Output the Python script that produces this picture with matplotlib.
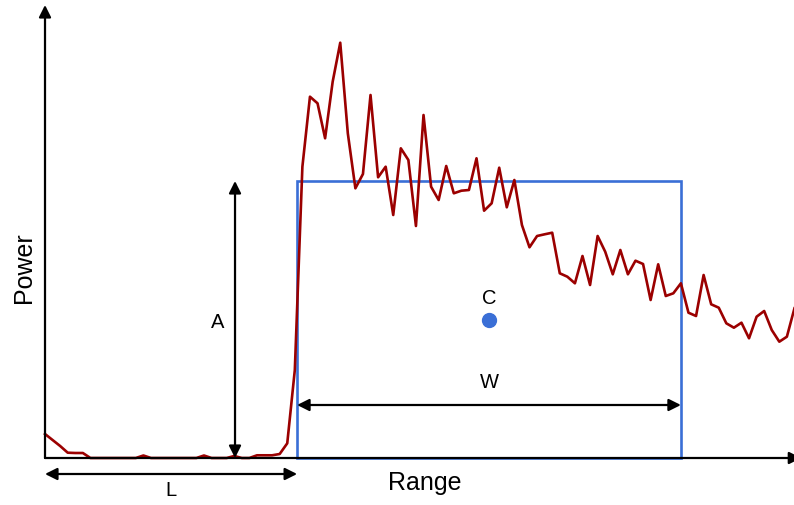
import matplotlib.pyplot as plt
import numpy as np
from matplotlib.patches import Rectangle

plt.rcParams["font.family"] = ["Liberation Sans", "DejaVu Sans"]

# sampled return power along range (arbitrary units)
power = np.array([
    24, 18, 12, 5.3, 5, 5, 0, 0, 0, 0,
    0, 0, 0, 2.5, 0, 0, 0, 0, 0, 0,
    0, 2.5, 0, 0, 0, 2, 0, 0, 2.7, 2.7,
    2.7, 4, 14.7, 88, 291.3, 361.3, 354.7, 319.7, 376.3, 415.3,
    324.7, 269.7, 284, 363, 280.7, 291.3, 243, 309.7, 298, 232,
    343, 271.3, 258, 292, 264.7, 267.3, 268, 299.7, 247.3, 254.7,
    290.3, 250.7, 278, 233, 210.7, 222, 223.7, 225.3, 184.7, 181.3,
    174.7, 202, 173, 222, 206.3, 183.7, 208, 183.7, 197.3, 194,
    158, 193.7, 162, 164.7, 174.7, 145.3, 142, 183, 153.7, 150.3,
    134.7, 130.3, 135.3, 119.7, 141.3, 147, 128, 116.3, 121.3, 149.7,
])
rng = np.arange(len(power))

# rectangular pulse fit: leading edge L, width W, amplitude A
L = 33.3
W = 50.7
A = 277
C = (L + W / 2, A / 2)

red = "#9b0000"
blue = "#3a6fd6"

fig = plt.figure(figsize=(7.94, 5.05), dpi=100)
ax = fig.add_axes([0, 0, 1, 1])
ax.set_xlim(-5.945, 98.94)
ax.set_ylim(-47, 458)
ax.axis("off")

ax.plot(rng, power, color=red, lw=1.9, zorder=3)
ax.add_patch(Rectangle((L, 0), W, A, fill=False, ec=blue, lw=1.9, zorder=2))
ax.plot(*C, "o", color=blue, ms=10, zorder=4)


def arrow(p0, p1, style="-|>"):
    ax.annotate("", xy=p1, xytext=p0, annotation_clip=False,
                arrowprops=dict(arrowstyle=style, color="black", lw=1.6,
                                mutation_scale=18, shrinkA=0, shrinkB=0),
                zorder=5)


# axes (the range axis runs off the right edge)
arrow((0, 0), (0, 453))
arrow((0, 0), (99.9, 0))

# dimension arrows
arrow((25.1, 0), (25.1, A), "<|-|>")
arrow((0, -16), (L, -16), "<|-|>")
arrow((L, 53), (L + W, 53), "<|-|>")

ax.text(22.85, 136, "A", fontsize=14.5, ha="center", va="center")
ax.text(16.6, -32, "L", fontsize=14.5, ha="center", va="center")
ax.text(C[0], 75, "W", fontsize=14.5, ha="center", va="center")
ax.text(C[0], 160, "C", fontsize=14.5, ha="center", va="center")

ax.text(50.1, -25, "Range", fontsize=18, ha="center", va="center")
ax.text(-2.77, 190, "Power", fontsize=18, ha="center", va="center",
        rotation=90)

fig.savefig("out.png", dpi=100)
